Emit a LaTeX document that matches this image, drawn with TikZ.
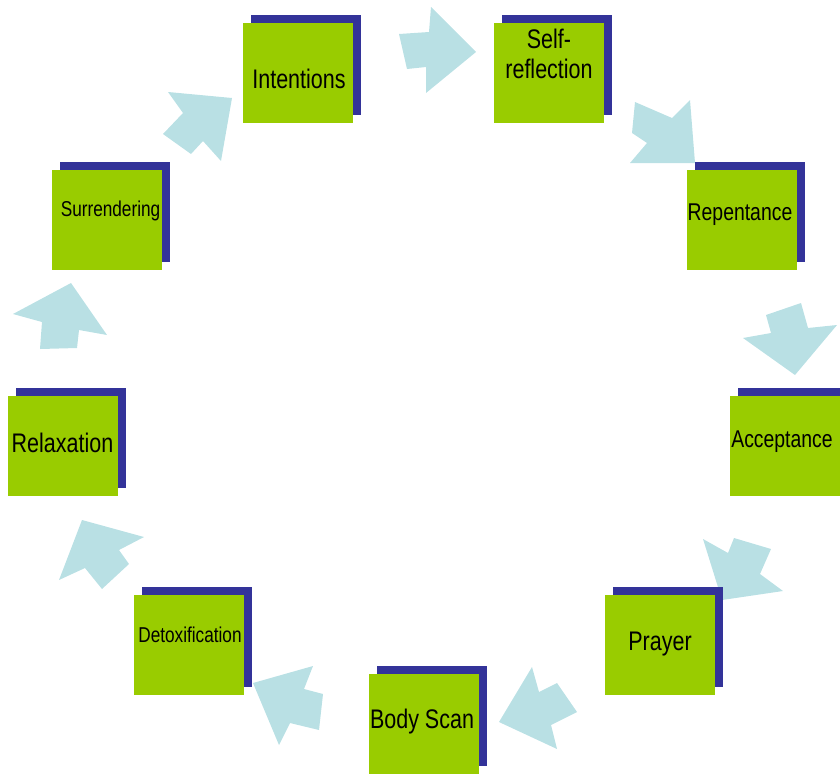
\documentclass[tikz,border=0pt]{standalone}
\usepackage{fontspec}
\setmainfont{Liberation Sans}
\usetikzlibrary{shadows}
\definecolor{boxgreen}{RGB}{153,204,0}
\definecolor{boxshadow}{RGB}{51,51,153}
\definecolor{flowblue}{RGB}{185,224,228}
% captions are set a little taller than the plain font
\newcommand\tallcap[1]{\scalebox{1}[1.25]{#1}}
\begin{document}
\begin{tikzpicture}[x=1pt,y=-1pt,
  stage/.style={fill=boxgreen, minimum width=110pt, minimum height=100pt,
    inner sep=0pt, outer sep=0pt,
    drop shadow={shadow xshift=8pt, shadow yshift=8pt, fill=boxshadow, opacity=1}},
  caption/.style={anchor=base, inner sep=0pt, text=black},
  bigcap/.style={caption, font=\fontsize{21.5}{24}\selectfont},
  midcap/.style={caption, font=\fontsize{19.4}{22}\selectfont},
  smallcap/.style={caption, font=\fontsize{17.2}{20}\selectfont},
  flowarrow/.style={fill=flowblue}]
\useasboundingbox (0,0) rectangle (840,774);

% block arrows running clockwise round the cycle
\fill[flowarrow] (407,69) -- (399,34) -- (429,32) -- (431,7) -- (476,52) -- (426,93) -- (426,67) -- cycle;
\fill[flowarrow] (635,102) -- (672,118) -- (690,100) -- (695,163) -- (630,163) -- (647,143) -- (632,133) -- cycle;
\fill[flowarrow] (766,315) -- (801,303) -- (808,328) -- (837,325) -- (795,375) -- (743,338) -- (771,333) -- cycle;
\fill[flowarrow] (734,538) -- (771,549) -- (760,574) -- (783,591) -- (722,600) -- (703,539) -- (728,553) -- cycle;
\fill[flowarrow] (557,683) -- (577,712) -- (551,725) -- (557,749) -- (499,722) -- (532,667) -- (539,692) -- cycle;
\fill[flowarrow] (323,694) -- (319,730) -- (290,723) -- (279,745) -- (253,683) -- (313,666) -- (304,689) -- cycle;
\fill[flowarrow] (129,564) -- (102,589) -- (85,568) -- (59,580) -- (82,520) -- (144,537) -- (119,550) -- cycle;
\fill[flowarrow] (77,348) -- (40,349) -- (42,322) -- (13,314) -- (71,283) -- (107,335) -- (79,330) -- cycle;
\fill[flowarrow] (191,154) -- (163,134) -- (183,113) -- (168,92) -- (232,98) -- (221,161) -- (203,141) -- cycle;

% stage boxes
\node[stage] (intentions) at (298,73) {};
\node[stage] (selfref) at (549,73) {};
\node[stage] (repentance) at (742,220) {};
\node[stage] (acceptance) at (785,446) {};
\node[stage] (prayer) at (660,645) {};
\node[stage] (bodyscan) at (424,724) {};
\node[stage] (detox) at (189,645) {};
\node[stage] (relaxation) at (63,446) {};
\node[stage] (surrender) at (107,220) {};

% captions
\node[bigcap] (intentions-t) at (299,88) {\tallcap{Intentions}};
\node[bigcap] (selfref-t) at (549,78) {\tallcap{\begin{tabular}[b]{@{}c@{}}Self-\\reflection\end{tabular}}};
\node[midcap] (repentance-t) at (740,220) {\tallcap{Repentance}};
\node[midcap] (acceptance-t) at (782,447) {\tallcap{Acceptance}};
\node[bigcap] (prayer-t) at (660,650) {\tallcap{Prayer}};
\node[bigcap] (bodyscan-t) at (422,728) {\tallcap{Body Scan}};
\node[smallcap] (detox-t) at (190,642) {\tallcap{Detoxification}};
\node[bigcap] (relaxation-t) at (62.5,452) {\tallcap{Relaxation}};
\node[smallcap] (surrender-t) at (110.5,216) {\tallcap{Surrendering}};
\end{tikzpicture}
\end{document}
